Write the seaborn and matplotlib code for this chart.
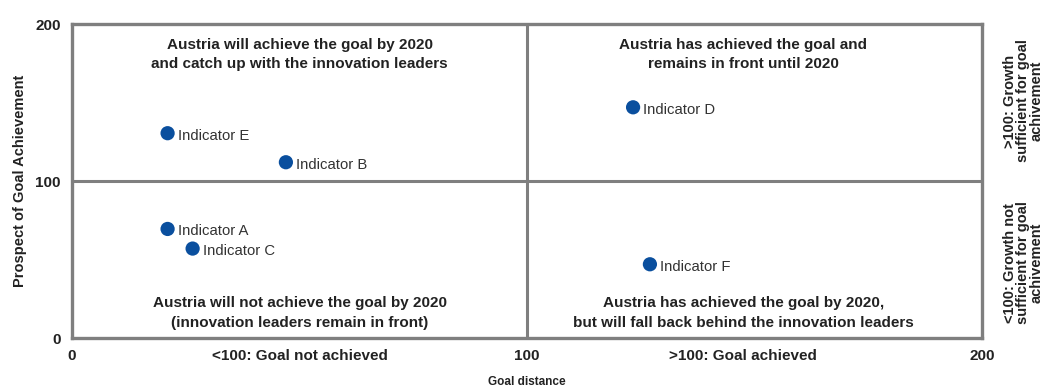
import matplotlib
matplotlib.use("Agg")
import matplotlib.pyplot as plt
import seaborn as sns
import pandas as pd

# values
indicators = ["Indicator A", "Indicator B", "Indicator C", "Indicator D", "Indicator E", "Indicator F"]
goal_distance = [21, 47, 26.5, 123.3, 21, 127]
prospect = [69.5, 112, 57, 147, 130.5, 47]

x_ticks = [0, 50, 100, 147.5, 200]
x_tick_labels = ["0", "<100: Goal not achieved", "100", ">100: Goal achieved", "200"]
y_ticks = [0, 100, 200]

quadrant_texts = [
    (50, 180.5, "Austria will achieve the goal by 2020\nand catch up with the innovation leaders"),
    (147.5, 180.5, "Austria has achieved the goal and\nremains in front until 2020"),
    (50, 16, "Austria will not achieve the goal by 2020\n(innovation leaders remain in front)"),
    (147.5, 16, "Austria has achieved the goal by 2020,\nbut will fall back behind the innovation leaders"),
]
side_texts = [
    (151, ">100: Growth\nsufficient for goal\nachivement"),
    (48, "<100: Growth not\nsufficient for goal\nachivement"),
]

df = pd.DataFrame({"name": indicators, "x": goal_distance, "y": prospect})

sns.set_theme(style="white")
plt.rcParams["font.family"] = ["Liberation Sans Narrow", "Liberation Sans", "DejaVu Sans"]

edge = "#7f7f7f"
txt = "#222222"

fig = plt.figure(figsize=(10.47, 3.89), dpi=100)
ax = fig.add_axes([0.0688, 0.131, 0.8692, 0.807])

sns.scatterplot(data=df, x="x", y="y", ax=ax, color="#0a4f9e", s=105,
                edgecolor="none", zorder=3, legend=False)
for _, r in df.iterrows():
    ax.annotate(r["name"], (r["x"], r["y"]), xytext=(7.5, -1.8), textcoords="offset points",
                fontsize=10.7, color="#333333", va="center")

ax.axvline(100, color=edge, lw=2.2)
ax.axhline(100, color=edge, lw=2.2)
ax.set_xlim(0, 200)
ax.set_ylim(0, 200)
for s in ax.spines.values():
    s.set_color(edge)
    s.set_linewidth(2.4)

ax.set_xticks(x_ticks)
ax.set_xticklabels(x_tick_labels, fontsize=11, fontweight="bold", color=txt)
ax.set_yticks(y_ticks)
ax.set_yticklabels([str(v) for v in y_ticks], fontsize=11, fontweight="bold", color=txt)
ax.tick_params(length=0, pad=8)
ax.set_xlabel("Goal distance", fontsize=8.5, fontweight="bold", color=txt, labelpad=9)
ax.set_ylabel("Prospect of Goal Achievement", fontsize=10.5, fontweight="bold", color=txt, labelpad=6)

for x, y, t in quadrant_texts:
    ax.text(x, y, t, ha="center", va="center", fontsize=11, fontweight="bold",
            color=txt, linespacing=1.5)
for y, t in side_texts:
    ax.text(209, y, t, ha="center", va="center", rotation=90, fontsize=10.5,
            fontweight="bold", color=txt, linespacing=0.92, clip_on=False)

fig.savefig("out.png", dpi=100)
